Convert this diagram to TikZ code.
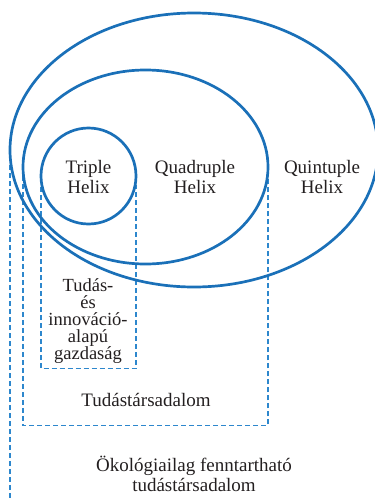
\documentclass[tikz,border=0pt]{standalone}
\usepackage{fontspec}
\setmainfont{Liberation Serif}
\usetikzlibrary{shapes.geometric}
\definecolor{helixblue}{RGB}{26,112,184}
\definecolor{dashblue}{RGB}{45,135,205}
\definecolor{txt}{RGB}{35,31,32}
\begin{document}
\begin{tikzpicture}[x=1pt,y=-1pt,
  ring/.style={draw=helixblue, line width=2.7pt, ellipse, inner sep=0pt},
  zone/.style={draw=dashblue, line width=1.3pt, dash pattern=on 5pt off 3pt},
  lbl/.style={text=txt, font=\fontsize{19}{20}\selectfont, align=center, inner sep=0pt}]
\useasboundingbox (0,0) rectangle (375,501);
\clip (0,0) rectangle (375,501);
% dashed zones
\coordinate (o1) at (10,165);
\coordinate (o2) at (10,506);
\coordinate (m1) at (23,176);
\coordinate (m2) at (268,178);
\coordinate (m3) at (268,425.7);
\coordinate (i1) at (41,187);
\coordinate (i2) at (136,185);
\coordinate (i3) at (136,368.3);
\draw[zone] (o1) -- (o2);
\draw[zone] (m1) |- (m3) -- (m2);
\draw[zone] (i1) |- (i3) -- (i2);
% helix rings
\node[ring, minimum width=368pt, minimum height=274pt] (quint) at (194,150) {};
\node[ring, minimum width=245pt, minimum height=194pt] (quad) at (145.5,167) {};
\node[ring, minimum width=95pt, minimum height=96pt] (triple) at (88.5,176) {};
% labels
\node[lbl] (tril) at (88.5,176.5) {Triple\\Helix};
\node[lbl] (quadl) at (195,176.5) {Quadruple\\Helix};
\node[lbl] (quintl) at (322,176.5) {Quintuple\\Helix};
\node[lbl, font=\fontsize{18.5}{17}\selectfont] (econ) at (88,321) {Tudás-\\és\\innováció-\\alapú\\gazdaság};
\node[lbl] (ks) at (146,399.7) {Tudástársadalom};
\node[lbl] (eks) at (194,473.7) {Ökológiailag fenntartható\\tudástársadalom};
\end{tikzpicture}
\end{document}
